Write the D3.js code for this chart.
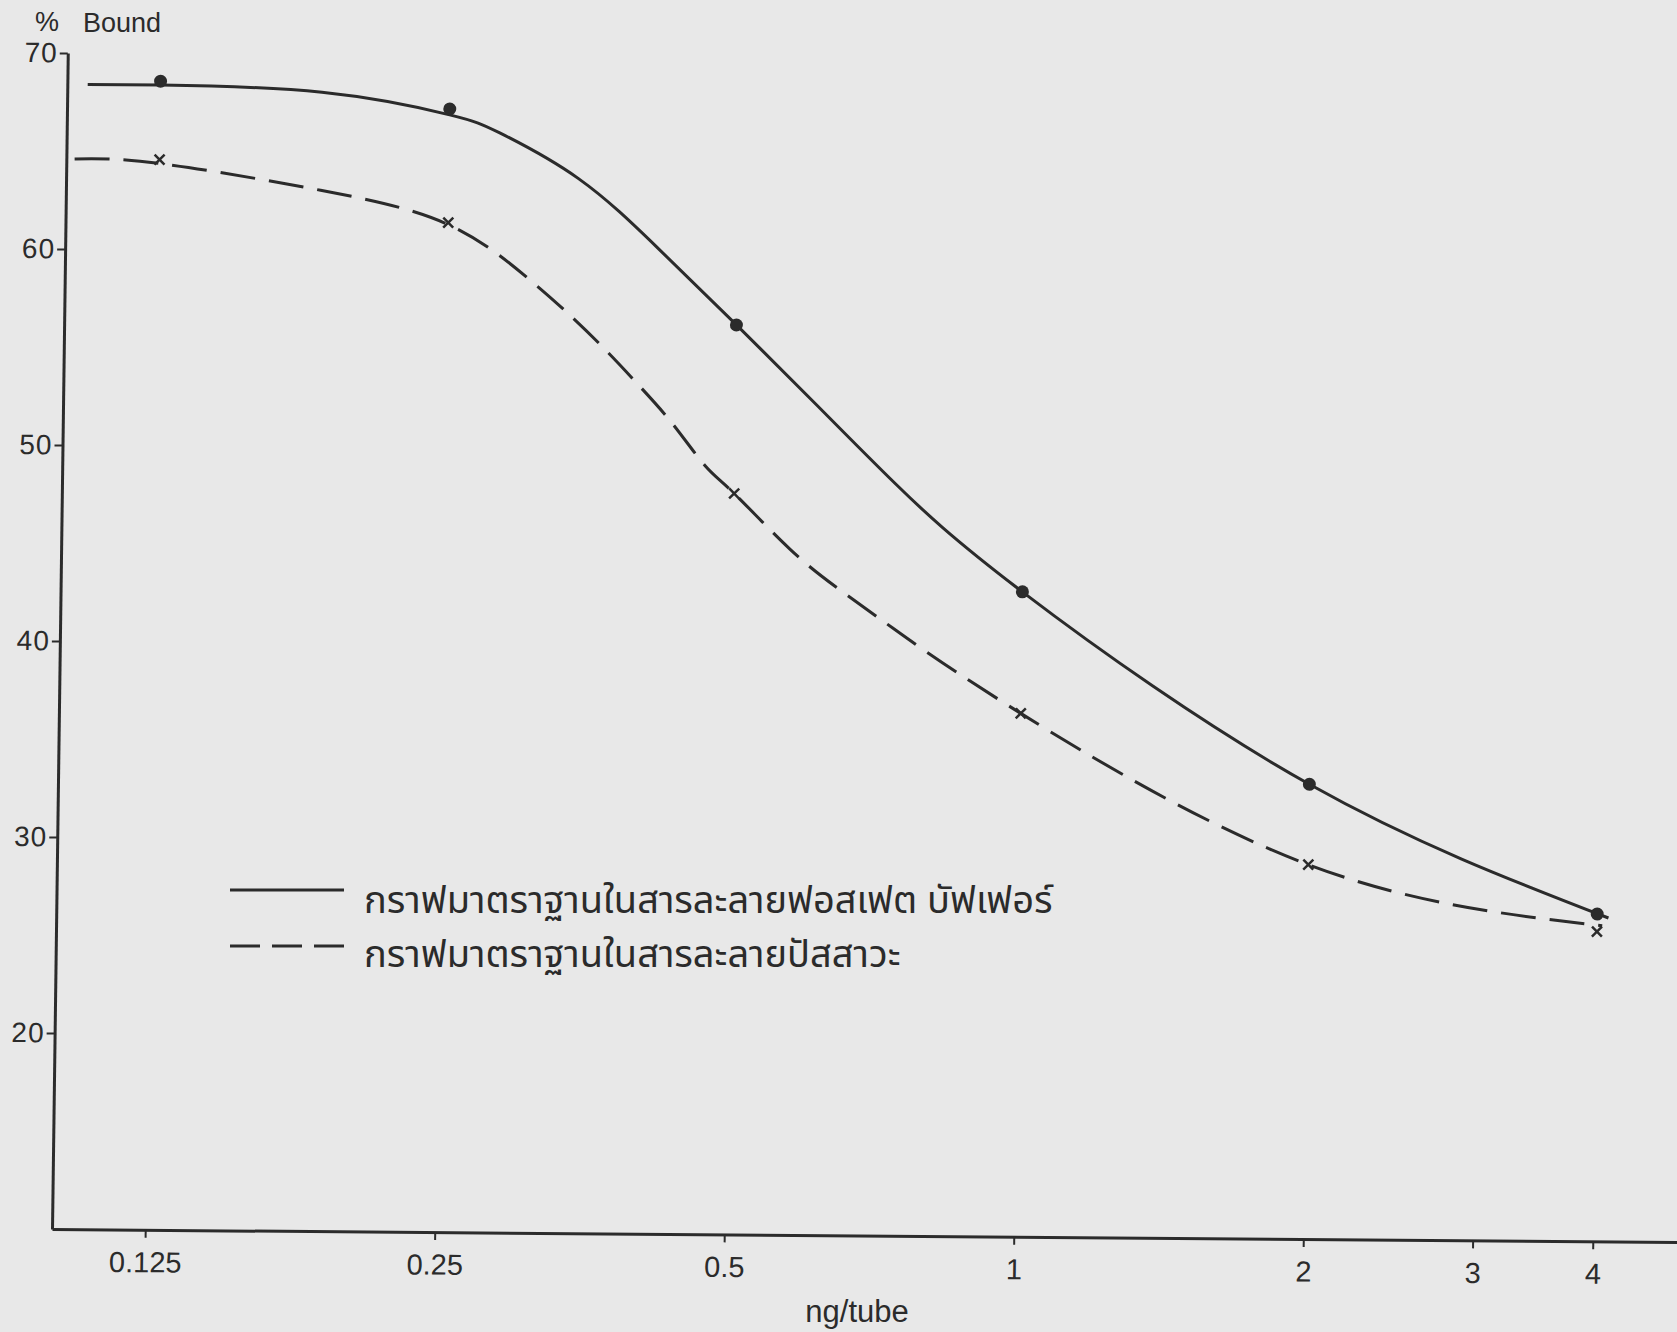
<!DOCTYPE html>
<html>
<head>
<meta charset="utf-8">
<script src="https://cdn.jsdelivr.net/npm/d3@7"></script>
<style>
  html, body { margin: 0; padding: 0; background: #e8e8e8; }
  svg { display: block; }
  text { font-family: "Liberation Sans", Arial, sans-serif; fill: #2b2b2b; }
  .thai { font-family: "Noto Sans Thai", "Noto Sans", "Liberation Sans", sans-serif; }
</style>
</head>
<body>
<svg></svg>
<script>
var width = 1677,
    height = 1332

// x: ng/tube (log scale), y: % Bound
var doses = [0.125, 0.25, 0.5, 1, 2, 4]
var phosphateBound = [68.6, 67.3, 56.4, 42.9, 33.2, 26.7]
var urineBound = [64.6, 61.5, 47.8, 36.7, 29.1, 25.8]

// hand drawn fitted curves
var phosphateFitX = [0.105, 0.125, 0.184, 0.25, 0.282, 0.341, 0.413, 0.5, 0.606, 0.734, 1, 2, 4.11]
var phosphateFitY = [68.4, 68.4, 68.1, 67.0, 66.1, 63.8, 60.3, 56.4, 52.4, 48.4, 42.9, 33.2, 26.5]
var urineFitX = [0.102, 0.125, 0.184, 0.25, 0.303, 0.336, 0.367, 0.398, 0.431, 0.466, 0.5, 0.572, 0.643, 0.734, 1, 2, 4.05]
var urineFitY = [64.6, 64.4, 63.1, 61.4, 58.7, 56.8, 55.0, 53.2, 51.3, 49.2, 47.8, 45.0, 43.0, 41.0, 36.7, 29.1, 26.1]

var xTicks = [0.125, 0.25, 0.5, 1, 2, 3, 4]
var xTickLabels = ["0.125", "0.25", "0.5", "1", "2", "3", "4"]
var yTicks = [20, 30, 40, 50, 60, 70]

var legendLabels = [
    "กราฟมาตราฐานในสารละลายฟอสเฟต บัฟเฟอร์",
    "กราฟมาตราฐานในสารละลายปัสสาวะ"
]

var ink = "#2b2b2b"

var xScale = d3.scaleLog().domain([0.1, 5]).range([52, 1686])
var yScale = d3.scaleLinear().domain([10, 70]).range([1229, 53])

var svg = d3.select("svg")
    .attr("width", width)
    .attr("height", height)

svg.append("rect")
    .attr("width", width)
    .attr("height", height)
    .attr("fill", "#e8e8e8")

// the hand drawn axes of the scan are not square: small shear around the origin
var sx = 0.008, sy = -0.0134
var ox = xScale(0.1), oy = yScale(10)
var plot = svg.append("g")
    .attr("transform", "matrix(1," + sx + "," + sy + ",1," + (-sy * oy) + "," + (-sx * ox) + ")")

var xAxis = plot.append("g")
    .attr("transform", "translate(0," + yScale(10) + ")")
    .call(d3.axisBottom(xScale)
        .tickValues(xTicks)
        .tickFormat(function(d, i) { return xTickLabels[i] })
        .tickSize(8)
        .tickSizeOuter(0)
        .tickPadding(14))
xAxis.select(".domain").attr("stroke", ink).attr("stroke-width", 3)
xAxis.selectAll(".tick line").attr("stroke", ink).attr("stroke-width", 2)
xAxis.selectAll(".tick text")
    .style("font-size", "29px")
    .style("font-family", "Liberation Sans, Arial, sans-serif")
    .attr("fill", ink)

var yAxis = plot.append("g")
    .attr("transform", "translate(" + xScale(0.1) + ",0)")
    .call(d3.axisLeft(yScale)
        .tickValues(yTicks)
        .tickSize(8)
        .tickSizeOuter(0)
        .tickPadding(2))
yAxis.select(".domain").attr("stroke", ink).attr("stroke-width", 3)
yAxis.selectAll(".tick line").attr("stroke", ink).attr("stroke-width", 2)
yAxis.selectAll(".tick text")
    .style("font-size", "28px")
    .style("font-family", "Liberation Sans, Arial, sans-serif")
    .attr("letter-spacing", 1)
    .attr("fill", ink)

var line = d3.line()
    .x(function(d) { return xScale(d[0]) })
    .y(function(d) { return yScale(d[1]) })
    .curve(d3.curveNatural)

plot.append("path")
    .datum(d3.zip(phosphateFitX, phosphateFitY))
    .attr("d", line)
    .attr("fill", "none")
    .attr("stroke", ink)
    .attr("stroke-width", 3)

plot.append("path")
    .datum(d3.zip(urineFitX, urineFitY))
    .attr("d", line)
    .attr("fill", "none")
    .attr("stroke", ink)
    .attr("stroke-width", 3)
    .attr("stroke-dasharray", "35,14")

plot.selectAll(".dot")
    .data(d3.zip(doses, phosphateBound))
    .enter()
    .append("circle")
    .attr("class", "dot")
    .attr("cx", function(d) { return xScale(d[0]) })
    .attr("cy", function(d) { return yScale(d[1]) })
    .attr("r", 6.5)
    .attr("fill", ink)

plot.selectAll(".cross")
    .data(d3.zip(doses, urineBound))
    .enter()
    .append("path")
    .attr("class", "cross")
    .attr("d", function(d) {
        var x = xScale(d[0]), y = yScale(d[1]), s = 5
        return "M" + (x - s) + "," + (y - s) + "L" + (x + s) + "," + (y + s) +
            "M" + (x + s) + "," + (y - s) + "L" + (x - s) + "," + (y + s)
    })
    .attr("stroke", ink)
    .attr("stroke-width", 2.5)
    .attr("fill", "none")

// axis titles
svg.append("text")
    .attr("x", 35)
    .attr("y", 31)
    .style("font-size", "27px")
    .text("%")
svg.append("text")
    .attr("x", 83)
    .attr("y", 32)
    .style("font-size", "27px")
    .text("Bound")

svg.append("text")
    .attr("x", 857)
    .attr("y", 1322)
    .attr("text-anchor", "middle")
    .style("font-size", "31px")
    .text("ng/tube")

// legend
var legend = svg.append("g")
var legendY = [890, 946]
legend.selectAll("line")
    .data(legendLabels)
    .enter()
    .append("line")
    .attr("x1", 230)
    .attr("x2", 344)
    .attr("y1", function(d, i) { return legendY[i] })
    .attr("y2", function(d, i) { return legendY[i] })
    .attr("stroke", ink)
    .attr("stroke-width", 3)
    .attr("stroke-dasharray", function(d, i) { return i == 0 ? null : "30,12" })

legend.selectAll("text")
    .data(legendLabels)
    .enter()
    .append("text")
    .attr("class", "thai")
    .attr("x", 364)
    .attr("y", function(d, i) { return legendY[i] + (i == 0 ? 23 : 21) })
    .style("font-size", "38px")
    .text(function(d) { return d })
</script>
</body>
</html>
